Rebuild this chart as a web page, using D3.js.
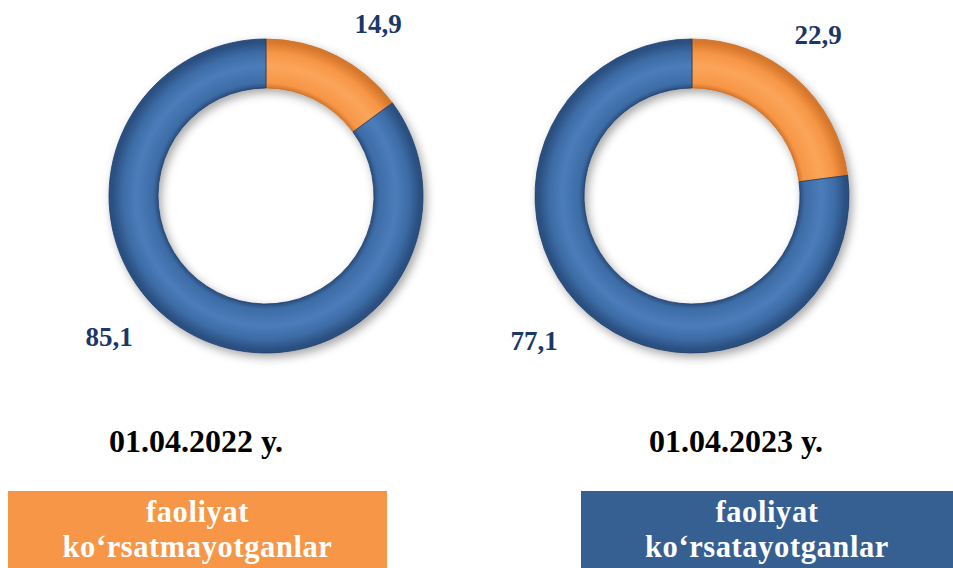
<!DOCTYPE html>
<html>
<head>
<meta charset="utf-8">
<script src="https://cdn.jsdelivr.net/npm/d3@7"></script>
<style>
  body { margin: 0; background: #fff; }
  svg { display: block; }
</style>
</head>
<body>
<div id="chart"></div>
<script>
const width = 953;
const height = 568;

// data
const dates = ["01.04.2022 y.", "01.04.2023 y."];
const categories = ["faoliyat ko‘rsatmayotganlar", "faoliyat ko‘rsatayotganlar"];
const inactive = [14.9, 22.9];
const active = [85.1, 77.1];

// layout (not data)
const centers = [[266, 196], [692, 196]];
const outerR = 157, innerR = 108;
const labelOffsets = [
    [[112, -172], [-157, 141]],
    [[126, -161], [-158, 145]]
];

const navy = "#1B3768";

const svg = d3.select('#chart')
    .append('svg')
    .attr('width', width)
    .attr('height', height);

const defs = svg.append('defs');

const shadow = defs.append('filter')
    .attr('id', 'shadow')
    .attr('x', '-20%').attr('y', '-20%')
    .attr('width', '140%').attr('height', '140%');
shadow.append('feDropShadow')
    .attr('dx', 3).attr('dy', 4)
    .attr('stdDeviation', 5)
    .attr('flood-color', '#000')
    .attr('flood-opacity', 0.35);

// bevel-ish gradient across the ring width (centred on the group origin)
function tubeGradient(id, dark, mid, light) {
    const g = defs.append('radialGradient')
        .attr('id', id)
        .attr('gradientUnits', 'userSpaceOnUse')
        .attr('cx', 0).attr('cy', 0).attr('r', outerR);
    const stops = [
        [0, dark], [innerR / outerR, dark],
        [(innerR + 5) / outerR, mid],
        [(innerR + 22) / outerR, light],
        [(outerR - 14) / outerR, mid],
        [(outerR - 3) / outerR, dark], [1, dark]
    ];
    stops.forEach(s => g.append('stop').attr('offset', s[0]).attr('stop-color', s[1]));
}

tubeGradient('gblue', '#2A4F80', '#3D6CA6', '#4C7DBA');
tubeGradient('gorange', '#D7772C', '#F79646', '#FBA55A');

const pie = d3.pie().sort(null).value(d => d);
const arc = d3.arc().innerRadius(innerR).outerRadius(outerR);

dates.forEach((date, i) => {
    const [cx, cy] = centers[i];

    const g = svg.append('g')
        .attr('transform', `translate(${cx},${cy})`);

    const arcs = pie([inactive[i], active[i]]);

    g.append('g')
        .attr('filter', 'url(#shadow)')
        .selectAll('path')
        .data(arcs)
        .join('path')
        .attr('d', arc)
        .attr('fill', (d, j) => j === 0 ? 'url(#gorange)' : 'url(#gblue)')
        .attr('stroke', (d, j) => j === 0 ? '#C46E2A' : '#1E3C66')
        .attr('stroke-width', 0.8);

    // value labels
    g.selectAll('text.val')
        .data(arcs)
        .join('text')
        .attr('class', 'val')
        .attr('x', (d, j) => labelOffsets[i][j][0])
        .attr('y', (d, j) => labelOffsets[i][j][1])
        .attr('dy', '0.35em')
        .attr('text-anchor', 'middle')
        .style('font-family', '"Liberation Serif", "Times New Roman", serif')
        .style('font-weight', 'bold')
        .style('font-size', '27px')
        .style('fill', navy)
        .text(d => d3.format('.1f')(d.data).replace('.', ','));
});

// date captions
svg.selectAll('text.date')
    .data(dates)
    .join('text')
    .attr('class', 'date')
    .attr('x', (d, i) => i === 0 ? 196 : 736)
    .attr('y', 452)
    .attr('text-anchor', 'middle')
    .style('font-family', '"Liberation Serif", "Times New Roman", serif')
    .style('font-weight', 'bold')
    .style('font-size', '32px')
    .style('fill', '#000')
    .text(d => d);

// legend boxes
const legend = [
    { x: 8, w: 379, fill: '#F79646', text: categories[0] },
    { x: 581, w: 372, fill: '#366092', text: categories[1] }
];

const lg = svg.selectAll('g.legend')
    .data(legend)
    .join('g')
    .attr('class', 'legend');

lg.append('rect')
    .attr('x', d => d.x)
    .attr('y', 491)
    .attr('width', d => d.w)
    .attr('height', 77)
    .attr('fill', d => d.fill);

lg.each(function(d) {
    const words = d.text.split(' ');
    d3.select(this).selectAll('text')
        .data(words)
        .join('text')
        .attr('x', d.x + d.w / 2)
        .attr('y', (w, k) => 522 + k * 35)
        .attr('text-anchor', 'middle')
        .style('font-family', '"Liberation Serif", "Times New Roman", serif')
        .style('font-weight', 'bold')
        .style('font-size', '30.5px')
        .style('letter-spacing', '0.6px')
        .style('fill', '#fff')
        .text(w => w);
});
</script>
</body>
</html>
